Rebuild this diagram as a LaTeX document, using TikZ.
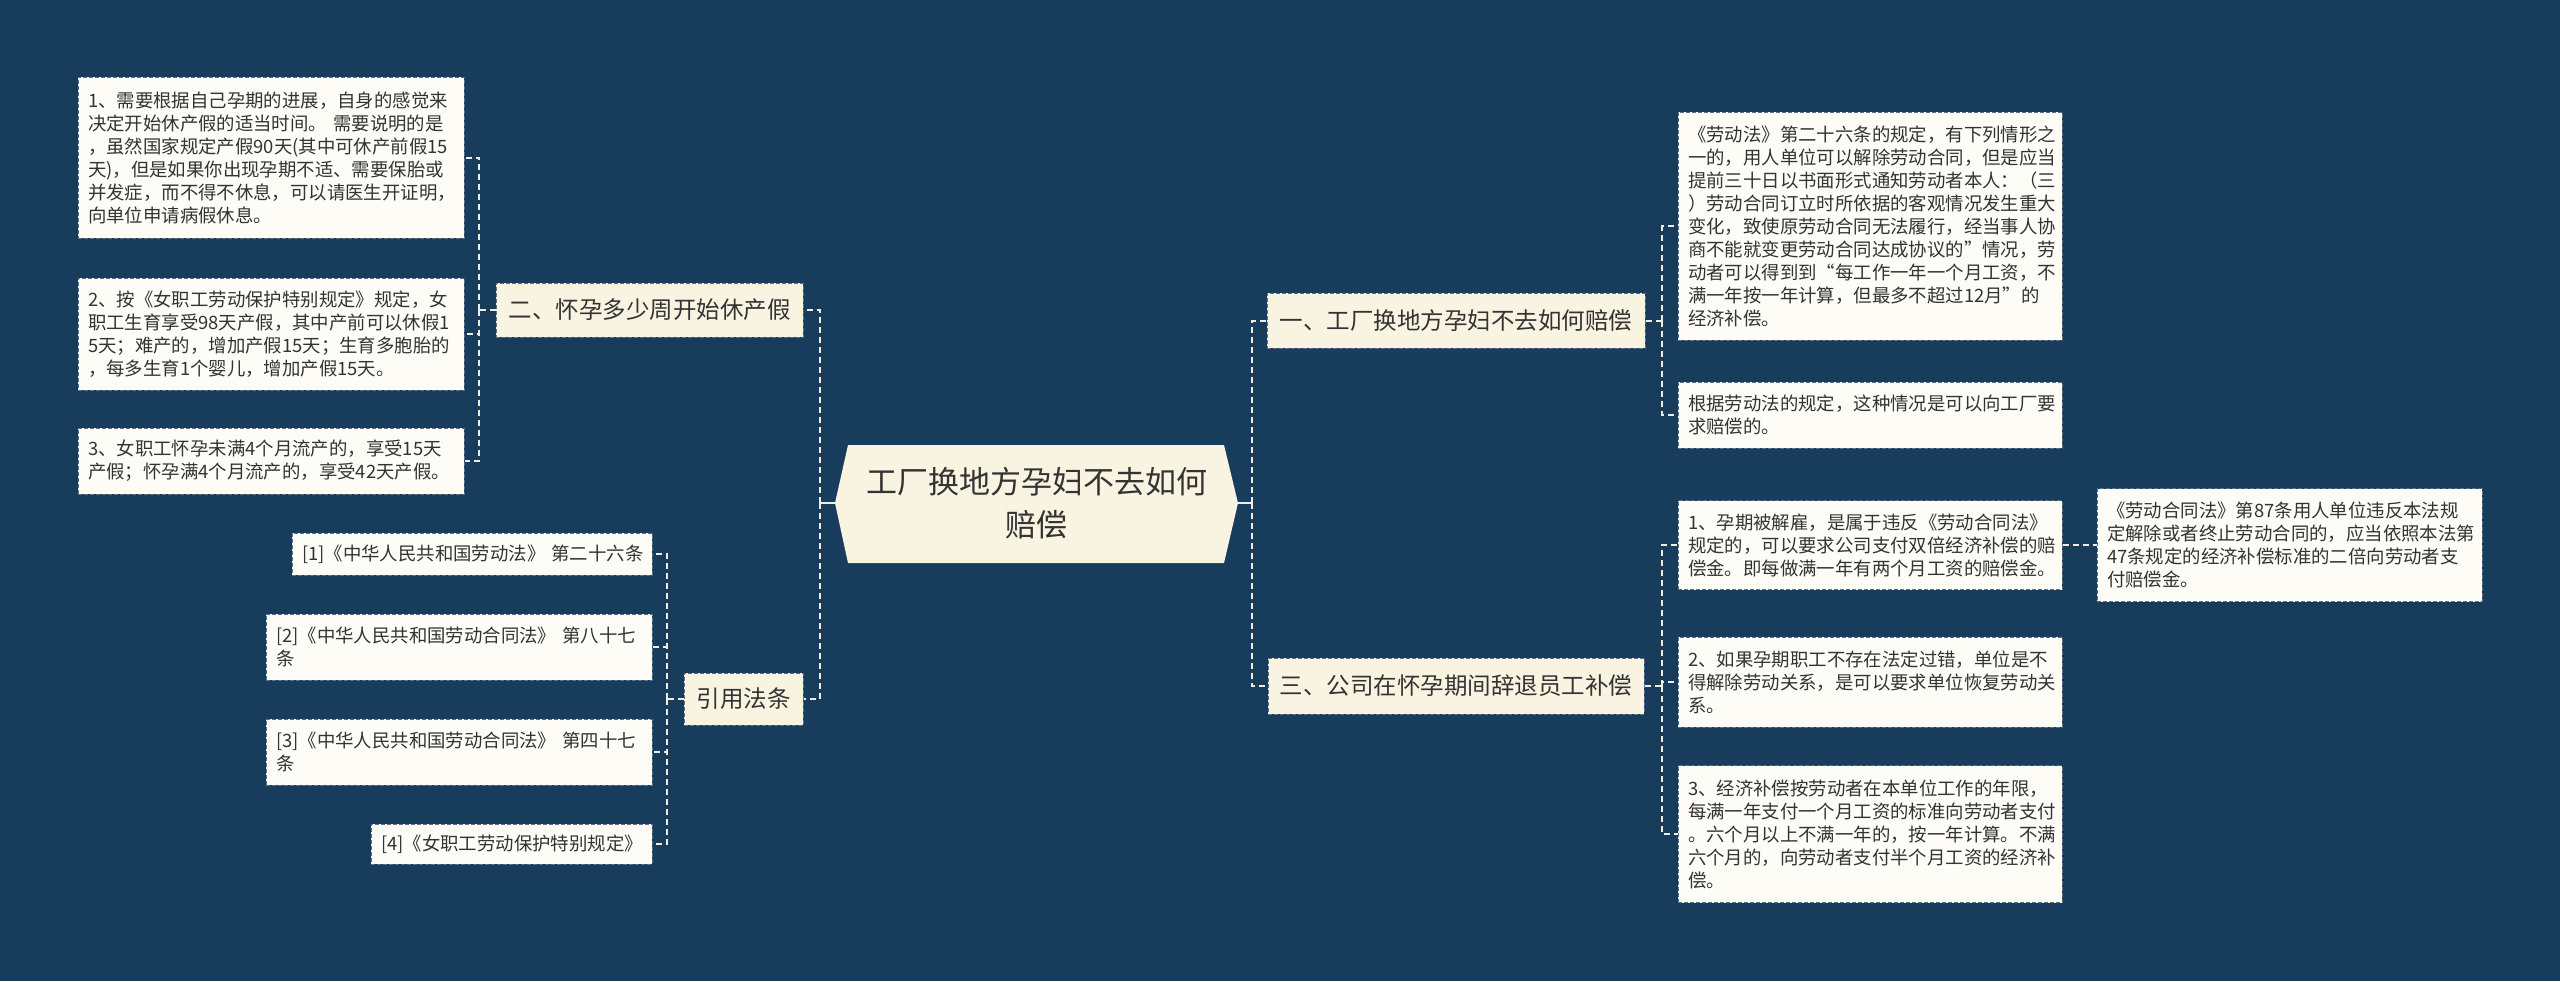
\documentclass[tikz,border=0pt]{standalone}
\usepackage{fontspec}
\setmainfont{Noto Sans CJK SC}
\definecolor{bg}{HTML}{183C5C}
\definecolor{lvl}{HTML}{F9F3E1}
\definecolor{leaf}{HTML}{FDFCF6}
\definecolor{txt}{HTML}{333333}
\definecolor{edge}{HTML}{5B7189}
\definecolor{wire}{HTML}{EFEDE6}
\begin{document}
\begin{tikzpicture}[x=0.5pt,y=-0.5pt,
  leafbox/.style={draw=edge, dash pattern=on 2pt off 1pt, line width=0.5pt, fill=leaf, text=txt,
    inner xsep=5pt, inner ysep=0pt, align=left, text width=183pt,
    font=\fontsize{9.2}{11.5}\selectfont},
  lvlbox/.style={draw=edge, dash pattern=on 2pt off 1pt, line width=0.5pt, fill=lvl, text=txt,
    inner xsep=0pt, inner ysep=0pt, align=center, font=\fontsize{11.75}{14}\selectfont},
  conn/.style={draw=wire, line width=1pt, dash pattern=on 3pt off 2pt},
  solidconn/.style={draw=wire, line width=1pt}
]
\fill[bg] (0,0) rectangle (2560,981);
\useasboundingbox (0,0) rectangle (2560,981);

% root hexagon
\fill[lvl] (835,503) -- (848,445) -- (1224,445) -- (1238,503) -- (1224,563) -- (848,563) -- cycle;
\node[text=txt, align=center, minimum width=201.5pt, minimum height=59pt, inner sep=0pt,
  font=\fontsize{15.5}{21.5}\selectfont] (root) at (1036.5,503) {工厂换地方孕妇不去如何\\赔偿};

% level-1 nodes
\node[lvlbox, minimum width=153.5pt, minimum height=27pt] (L1) at (649.5,310) {二、怀孕多少周开始休产假};
\node[lvlbox, minimum width=59.5pt, minimum height=26pt] (L2) at (743.5,699) {引用法条};
\node[lvlbox, minimum width=189pt, minimum height=27.5pt] (RL1) at (1456,320.5) {一、工厂换地方孕妇不去如何赔偿};
\node[lvlbox, minimum width=188pt, minimum height=28pt] (RL3) at (1456,686) {三、公司在怀孕期间辞退员工补偿};

% left leaves
\node[leafbox, minimum height=80.5pt] (C1) at (271,157.5) {1、需要根据自己孕期的进展，自身的感觉来\\决定开始休产假的适当时间。~需要说明的是\\，虽然国家规定产假90天(其中可休产前假15\\天)，但是如果你出现孕期不适、需要保胎或\\并发症，而不得不休息，可以请医生开证明，\\向单位申请病假休息。};
\node[leafbox, minimum height=56pt] (C2) at (271,334) {2、按《女职工劳动保护特别规定》规定，女\\职工生育享受98天产假，其中产前可以休假1\\5天；难产的，增加产假15天；生育多胞胎的\\，每多生育1个婴儿，增加产假15天。};
\node[leafbox, minimum height=33pt] (C3) at (271,461) {3、女职工怀孕未满4个月流产的，享受15天\\产假；怀孕满4个月流产的，享受42天产假。};

\node[leafbox, text width=170pt, minimum height=21pt] (R1) at (472,554) {\mbox{[1]《中华人民共和国劳动法》~第二十六条}};
\node[leafbox, minimum height=33pt] (R2) at (459,647) {[2]《中华人民共和国劳动合同法》~第八十七\\条};
\node[leafbox, minimum height=33pt] (R3) at (459,752) {[3]《中华人民共和国劳动合同法》~第四十七\\条};
\node[leafbox, text width=130.5pt, minimum height=20pt] (R4) at (511.5,844) {[4]《女职工劳动保护特别规定》};

% right leaves
\node[leafbox, text width=182pt, minimum height=114pt] (RC1) at (1870,226) {《劳动法》第二十六条的规定，有下列情形之\\一的，用人单位可以解除劳动合同，但是应当\\提前三十日以书面形式通知劳动者本人：（三\\）劳动合同订立时所依据的客观情况发生重大\\变化，致使原劳动合同无法履行，经当事人协\\商不能就变更劳动合同达成协议的”情况，劳\\动者可以得到到“每工作一年一个月工资，不\\满一年按一年计算，但最多不超过12月”的\\经济补偿。};
\node[leafbox, text width=182pt, minimum height=33pt] (RC2) at (1870,415) {根据劳动法的规定，这种情况是可以向工厂要\\求赔偿的。};
\node[leafbox, text width=182pt, minimum height=44.5pt] (RC3) at (1870,545) {1、孕期被解雇，是属于违反《劳动合同法》\\规定的，可以要求公司支付双倍经济补偿的赔\\偿金。即每做满一年有两个月工资的赔偿金。};
\node[leafbox, text width=182.5pt, minimum height=56.5pt] (RC3a) at (2289.5,545) {《劳动合同法》第87条用人单位违反本法规\\定解除或者终止劳动合同的，应当依照本法第\\47条规定的经济补偿标准的二倍向劳动者支\\付赔偿金。};
\node[leafbox, text width=182pt, minimum height=45pt] (RC4) at (1870,682) {2、如果孕期职工不存在法定过错，单位是不\\得解除劳动关系，是可以要求单位恢复劳动关\\系。};
\node[leafbox, text width=182pt, minimum height=68.5pt] (RC5) at (1870,834) {3、经济补偿按劳动者在本单位工作的年限，\\每满一年支付一个月工资的标准向劳动者支付\\。六个月以上不满一年的，按一年计算。不满\\六个月的，向劳动者支付半个月工资的经济补\\偿。};

% trunk coordinates
\coordinate (tRootL) at (820,503);
\coordinate (tRootR) at (1252,503);
\coordinate (tL1) at (479,310);
\coordinate (tL2) at (667,699);
\coordinate (tRL1) at (1662,320.5);
\coordinate (tRL3) at (1662,686);

% connectors
\draw[solidconn] (root.west) -- (tRootL);
\draw[conn] (tRootL) |- (L1.east);
\draw[conn] (tRootL) |- (L2.east);
\draw[solidconn] (root.east) -- (tRootR);
\draw[conn] (tRootR) |- (RL1.west);
\draw[conn] (tRootR) |- (RL3.west);

\draw[conn] (L1.west) -- (tL1);
\draw[conn] (tL1) |- (C1.east);
\draw[conn] (tL1) |- (C2.east);
\draw[conn] (tL1) |- (C3.east);

\draw[conn] (L2.west) -- (tL2);
\draw[conn] (tL2) |- (R1.east);
\draw[conn] (tL2) |- (R2.east);
\draw[conn] (tL2) |- (R3.east);
\draw[conn] (tL2) |- (R4.east);

\draw[conn] (RL1.east) -- (tRL1);
\draw[conn] (tRL1) |- (RC1.west);
\draw[conn] (tRL1) |- (RC2.west);

\draw[conn] (RL3.east) -- (tRL3);
\draw[conn] (tRL3) |- (RC3.west);
\draw[conn] (tRL3) |- (RC4.west);
\draw[conn] (tRL3) |- (RC5.west);

\draw[conn] (RC3.east) -- (RC3a.west);
\end{tikzpicture}
\end{document}
